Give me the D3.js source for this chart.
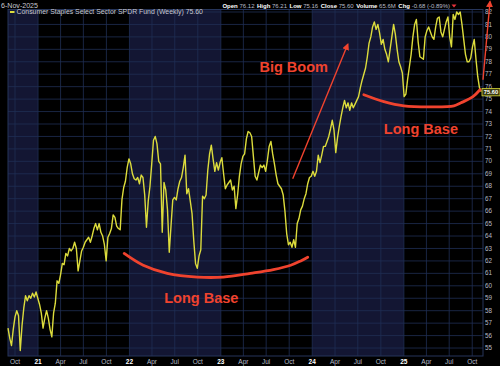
<!DOCTYPE html>
<html>
<head>
<meta charset="utf-8">
<script src="https://cdn.jsdelivr.net/npm/d3@7"></script>
<style>
    body { margin: 0; background: #000; }
    svg { display: block; font-family: Arial, "Liberation Sans", sans-serif; }
</style>
</head>
<body>
<div id="chart"></div>
<script>

// weekly closes of XLP, first bar 3-Sep-2020, one value per week up to 6-Nov-2025
let firstWeek = "2020-09-03";
let closes = [
    56.6, 55.8, 55.2, 56.5, 57.5, 58.0, 57.6, 54.8, 56.8, 58.2,
    59.2, 58.8, 59.2, 59.0, 59.4, 59.1, 59.5, 59.0, 58.5, 57.8,
    56.6, 57.4, 58.0, 57.4, 56.5, 55.9, 57.8, 58.6, 60.4, 60.2,
    60.9, 61.8, 61.7, 62.6, 62.4, 63.0, 62.8, 63.0, 63.5, 63.0,
    61.2, 62.0, 62.8, 63.1, 63.5, 63.7, 63.9, 63.5, 64.0, 64.6,
    65.0, 64.5, 65.0, 64.3, 64.0, 63.3, 62.0, 63.9, 64.2, 64.6,
    65.7, 65.5, 64.8, 64.6, 64.5, 66.9, 67.9, 68.4, 69.5, 70.2,
    69.8, 69.0, 68.6, 68.5, 68.7, 68.2, 68.9, 68.7, 67.3, 64.7,
    66.8, 68.0, 69.8, 71.7, 72.0, 71.4, 70.0, 69.8, 64.3, 68.3,
    67.7, 66.1, 62.7, 64.8, 66.9, 67.1, 66.9, 67.8, 68.4, 68.7,
    69.5, 70.5, 67.4, 67.8, 66.8, 65.8, 63.6, 61.8, 61.4, 62.4,
    62.9, 67.2, 67.0, 67.3, 69.3, 70.6, 71.3, 70.2, 69.2, 69.9,
    69.3, 69.9, 70.3, 69.0, 67.8, 68.1, 68.3, 68.5, 67.7, 68.0,
    66.2, 67.3, 68.8, 69.8, 70.4, 70.6, 71.8, 72.4, 72.3, 72.0,
    70.4, 68.8, 68.5, 69.1, 69.7, 69.5, 69.7, 69.2, 70.1, 71.2,
    71.6, 70.6, 69.8, 68.9, 68.2, 68.0, 67.8, 67.3, 66.0, 64.2,
    63.3, 63.5, 63.1, 63.7, 63.1, 65.0, 65.4, 66.1, 66.4, 67.0,
    67.4, 68.2, 68.7, 68.8, 69.2, 68.8, 69.2, 70.5, 69.9, 70.5,
    71.2, 71.2, 71.6, 72.0, 72.6, 73.3, 72.5, 70.7, 71.9, 72.8,
    73.6, 74.3, 74.9, 74.3, 74.7, 74.1, 74.7, 74.3, 74.6, 74.9,
    75.2, 75.9, 76.5, 77.0, 77.5, 78.4, 79.5, 80.0, 80.8, 81.2,
    80.6, 81.0, 80.3, 79.4, 79.8, 79.0, 78.6, 78.0, 79.0, 80.0,
    81.0, 80.2, 79.0, 78.0, 77.6, 77.1, 75.2, 75.4, 76.6, 77.6,
    78.6, 80.0, 81.0, 81.4, 79.6, 78.4, 78.3, 78.2, 80.0, 80.5,
    80.8, 80.4, 80.0, 79.8, 80.8, 81.5, 81.6, 80.4, 80.0, 80.6,
    81.2, 81.6, 80.0, 79.2, 81.8, 81.4, 82.0, 81.8, 82.0, 81.0,
    79.8, 78.6, 78.0, 78.0, 78.3, 79.2, 79.8, 78.2, 76.8, 75.9,
    75.6
];

// price axis labels
let priceTicks = d3.range(55, 83);

// hand drawn annotations: [date, price]
let leftBase = [
    ["2021-12-11", 62.6], ["2022-02-25", 61.65], ["2022-06-01", 61.0],
    ["2022-09-29", 60.7], ["2023-01-11", 60.7], ["2023-04-29", 61.0],
    ["2023-07-30", 61.3], ["2023-10-07", 61.65], ["2023-11-16", 62.0],
    ["2023-12-14", 62.3]
];
let rightBase = [
    ["2024-07-25", 75.35], ["2024-10-13", 74.8], ["2025-01-01", 74.46],
    ["2025-04-19", 74.38], ["2025-07-20", 74.46], ["2025-08-17", 74.7],
    ["2025-10-04", 75.2], ["2025-11-01", 75.75]
];
let boomArrow = [["2023-10-15", 68.6], ["2024-05-22", 79.4]];
let topArrow = [["2025-11-13", 76.56], ["2025-12-11", 82.84]];
let labels = [
    { text: "Big Boom", date: "2023-10-19", price: 77.2 },
    { text: "Long Base", date: "2022-10-15", price: 58.6 },
    { text: "Long Base", date: "2025-03-10", price: 72.2 }
];

let headerItems = [
    ["Open", "76.12"], ["High", "76.21"], ["Low", "75.16"], ["Close", "75.60"],
    ["Volume", "65.6M"], ["Chg", "-0.68 (-0.89%)"]
];

let dateParser = d3.timeParse("%Y-%m-%d");

let width = 500, height = 366;
let plot = { left: 8, right: 483, top: 9.5, bottom: 356 };

let start = dateParser(firstWeek);
let weekly = closes.map(function(c, i) {
    return { date: d3.timeDay.offset(start, i * 7), close: c };
});

let svg = d3.select("#chart").append("svg")
    .attr("width", width)
    .attr("height", height);

svg.append("rect")
    .attr("width", width)
    .attr("height", height)
    .attr("fill", "#000");

// scales
let x = d3.scaleTime()
    .domain([dateParser("2020-09-03"), dateParser("2025-11-13")])
    .range([plot.left, plot.right]);

let y = d3.scaleLinear()
    .domain([54.36, 82.2])
    .range([plot.bottom, plot.top]);

// alternating year shading
let years = d3.timeYear.range(dateParser("2020-01-01"), dateParser("2026-01-01"));
svg.append("g")
    .selectAll("rect")
    .data(years.filter(function(d) { return d.getFullYear() % 2 === 0; }))
    .join("rect")
    .attr("x", function(d) { return Math.max(plot.left, x(d)); })
    .attr("width", function(d) {
        return Math.min(plot.right, x(d3.timeYear.offset(d, 1))) - Math.max(plot.left, x(d));
    })
    .attr("y", plot.top)
    .attr("height", plot.bottom - plot.top)
    .attr("fill", "#131633");

// grid
let quarters = d3.timeMonth.every(3).range(dateParser("2020-10-01"), dateParser("2025-11-01"));

svg.append("g")
    .selectAll("line")
    .data(priceTicks)
    .join("line")
    .attr("x1", plot.left)
    .attr("x2", plot.right)
    .attr("y1", function(d) { return y(d); })
    .attr("y2", function(d) { return y(d); })
    .attr("stroke", "#1f2e54")
    .attr("stroke-width", 0.8);

svg.append("g")
    .selectAll("line")
    .data(quarters)
    .join("line")
    .attr("x1", function(d) { return x(d); })
    .attr("x2", function(d) { return x(d); })
    .attr("y1", plot.top)
    .attr("y2", plot.bottom)
    .attr("stroke", "#1f2e54")
    .attr("stroke-width", 0.8);

// frame
svg.append("rect")
    .attr("x", plot.left)
    .attr("y", plot.top)
    .attr("width", plot.right - plot.left)
    .attr("height", plot.bottom - plot.top)
    .attr("fill", "none")
    .attr("stroke", "#26355a")
    .attr("stroke-width", 1);

// price line
let line = d3.line()
    .x(function(d) { return x(d.date); })
    .y(function(d) { return y(d.close); });

svg.append("path")
    .datum(weekly)
    .attr("d", line)
    .attr("fill", "none")
    .attr("stroke", "#dcdc3c")
    .attr("stroke-width", 1.4)
    .attr("stroke-linejoin", "round");

// right axis
let yAxis = svg.append("g");
yAxis.selectAll("text")
    .data(priceTicks)
    .join("text")
    .attr("x", 485)
    .attr("y", function(d) { return y(d); })
    .attr("dy", "0.33em")
    .attr("font-size", 6.3)
    .attr("fill", "#b8bcc8")
    .text(function(d) { return d; });

// last price tag
let last = weekly[weekly.length - 1];
svg.append("rect")
    .attr("x", 482)
    .attr("y", y(last.close) - 3.2)
    .attr("width", 18)
    .attr("height", 7.4)
    .attr("fill", "#3b3b10")
    .attr("stroke", "#d6d63a")
    .attr("stroke-width", 0.8);
svg.append("text")
    .attr("x", 491)
    .attr("y", y(last.close) + 0.5)
    .attr("dy", "0.35em")
    .attr("text-anchor", "middle")
    .attr("font-size", 5.8)
    .attr("font-weight", "bold")
    .attr("fill", "#fff")
    .text(last.close.toFixed(2));

// bottom axis
svg.append("g")
    .selectAll("text")
    .data(quarters)
    .join("text")
    .attr("x", function(d) { return x(d); })
    .attr("y", 363.5)
    .attr("text-anchor", "middle")
    .attr("font-size", 6.5)
    .attr("font-weight", function(d) { return d.getMonth() === 0 ? "bold" : "normal"; })
    .attr("fill", function(d) { return d.getMonth() === 0 ? "#fff" : "#b8bcc8"; })
    .text(function(d) {
        return d.getMonth() === 0 ? d3.timeFormat("%y")(d) : d3.timeFormat("%b")(d);
    });

// header
svg.append("text")
    .attr("x", 1)
    .attr("y", 7.5)
    .attr("font-size", 7.2)
    .attr("textLength", 37)
    .attr("lengthAdjust", "spacingAndGlyphs")
    .attr("fill", "#c8c8d0")
    .text("6-Nov-2025");

let header = svg.append("text")
    .attr("x", 450)
    .attr("y", 7.5)
    .attr("text-anchor", "end")
    .attr("font-size", 6.0);
headerItems.forEach(function(d, i) {
    header.append("tspan")
        .attr("font-weight", "bold")
        .attr("fill", "#fff")
        .attr("dx", i > 0 ? 2.5 : 0)
        .text(d[0] + " ");
    header.append("tspan")
        .attr("fill", "#b8bcc8")
        .text(d[1]);
});
svg.append("path")
    .attr("d", "M451.5,4.5 L456.5,4.5 L454,7.5 Z")
    .attr("fill", "#e8333a");

// legend
svg.append("rect")
    .attr("x", 10)
    .attr("y", 11)
    .attr("width", 4.5)
    .attr("height", 2)
    .attr("fill", "#dcdc3c");
svg.append("text")
    .attr("x", 16.5)
    .attr("y", 14.4)
    .attr("font-size", 6.9)
    .attr("fill", "#c8c8d0")
    .text("Consumer Staples Select Sector SPDR Fund (Weekly) " + last.close.toFixed(2));

// annotations
let red = "#f0432e";
let annLine = d3.line()
    .curve(d3.curveCatmullRom)
    .x(function(d) { return x(dateParser(d[0])); })
    .y(function(d) { return y(d[1]); });

[leftBase, rightBase].forEach(function(pts) {
    svg.append("path")
        .attr("d", annLine(pts))
        .attr("fill", "none")
        .attr("stroke", red)
        .attr("stroke-width", 2.8)
        .attr("stroke-linecap", "round");
});

svg.append("defs").append("marker")
    .attr("id", "head")
    .attr("viewBox", "0 0 10 10")
    .attr("refX", 8)
    .attr("refY", 5)
    .attr("markerWidth", 7)
    .attr("markerHeight", 7)
    .attr("markerUnits", "userSpaceOnUse")
    .attr("orient", "auto")
    .append("path")
    .attr("d", "M0,0 L10,5 L0,10 Z")
    .attr("fill", red);

[boomArrow, topArrow].forEach(function(pts) {
    svg.append("line")
        .attr("x1", x(dateParser(pts[0][0])))
        .attr("y1", y(pts[0][1]))
        .attr("x2", x(dateParser(pts[1][0])))
        .attr("y2", y(pts[1][1]))
        .attr("stroke", red)
        .attr("stroke-width", 1.4)
        .attr("marker-end", "url(#head)");
});

svg.append("g")
    .selectAll("text")
    .data(labels)
    .join("text")
    .attr("x", function(d) { return x(dateParser(d.date)); })
    .attr("y", function(d) { return y(d.price); })
    .attr("text-anchor", "middle")
    .attr("font-size", 14.5)
    .attr("font-weight", "bold")
    .attr("fill", red)
    .text(function(d) { return d.text; });

</script>
</body>
</html>
